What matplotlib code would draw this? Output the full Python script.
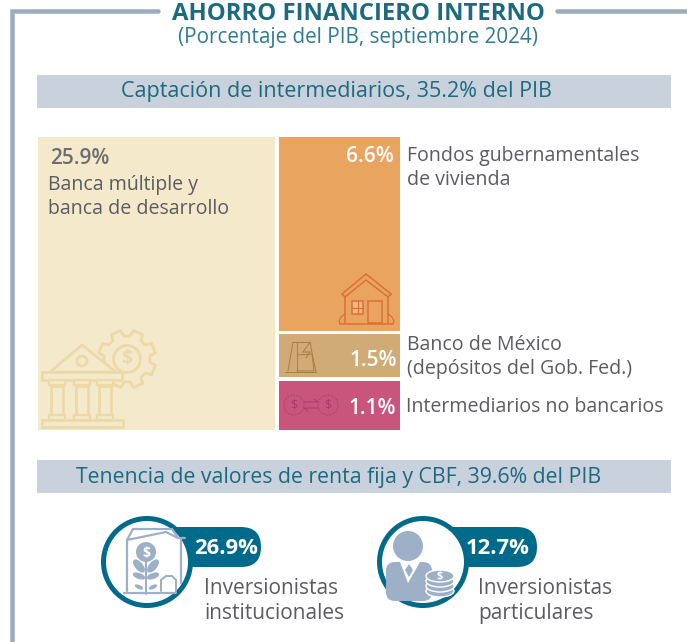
import matplotlib
matplotlib.use("Agg")
import matplotlib.pyplot as plt
from matplotlib.patches import Rectangle, Circle, Polygon, FancyBboxPatch, Ellipse
import numpy as np

plt.rcParams['font.family'] = ['Open Sans', 'DejaVu Sans']

TITLE = "AHORRO FINANCIERO INTERNO"
SUBTITLE = "(Porcentaje del PIB, septiembre 2024)"
HEAD1 = "Captación de intermediarios, 35.2% del PIB"
HEAD2 = "Tenencia de valores de renta fija y CBF, 39.6% del PIB"
blocks = ["Banca múltiple y\nbanca de desarrollo", "Fondos gubernamentales\nde vivienda",
          "Banco de México\n(depósitos del Gob. Fed.)", "Intermediarios no bancarios"]
block_vals = [25.9, 6.6, 1.5, 1.1]
holders = ["Inversionistas\ninstitucionales", "Inversionistas\nparticulares"]
holder_vals = [26.9, 12.7]

W, H = 687, 642
fig = plt.figure(figsize=(W/100, H/100), dpi=100, facecolor='white')
ax = fig.add_axes([0, 0, 1, 1])
ax.set_xlim(0, W); ax.set_ylim(H, 0); ax.axis('off')

GREY = '#9AADBC'; BAR = '#C9D1DC'; TEAL = '#1B6A80'; TEAL2 = '#2F7C90'; RING = '#006A8A'
TXT = '#5A5C5F'; ICON = '#9DB0C8'
px = 100/72
LS = 1.32

def line(xs, ys, c, lw=1.5, **k):
    ax.plot(xs, ys, color=c, lw=lw/px, solid_capstyle=k.pop('cap', 'round'), solid_joinstyle='miter', **k)

# frame
line([158, 11.5, 11.5], [11, 11, 642], GREY, 4.5)
line([557, 687], [11, 11], GREY, 4.5)

ax.text(358.5, 13.5, TITLE, ha='center', va='center', fontsize=17.2, fontweight='bold', color=TEAL)
ax.text(358, 38, SUBTITLE, ha='center', va='center', fontsize=14.9, color=TEAL2)

for y0, t, cx, fs, dy in [(75, HEAD1, 336, 15.45, 17), (460, HEAD2, 339, 15.3, 18)]:
    ax.add_patch(Rectangle((37, y0), 634, 33, fc=BAR, ec='none'))
    ax.text(cx, y0+dy, t, ha='center', va='center', fontsize=fs, color=TEAL)

# blocks
rects = [(38, 137, 237, 293, '#F5E9CB'), (279, 137, 121, 194, '#E9A55F'),
         (279, 334, 121, 43, '#D0AB76'), (279, 381, 121, 49, '#C9547C')]
for (x, y, w, h, c) in rects:
    ax.add_patch(Rectangle((x, y), w, h, fc=c, ec='none'))

VAL = dict(fontsize=15, fontweight=600, va='center')
LAB = dict(fontsize=14.05, color=TXT, va='center', ha='left', linespacing=LS)
ax.text(50, 159, f"{block_vals[0]}%", ha='left', color='#6D6E71', **VAL)
ax.text(48, 197, blocks[0], **LAB)
ax.text(394, 157, f"{block_vals[1]}%", ha='right', color='white', **VAL)
ax.text(407, 168, blocks[1], **LAB)
ax.text(397, 360, f"{block_vals[2]}%", ha='right', color='white', **VAL)
ax.text(407, 357, blocks[2], **LAB)
ax.text(396, 408, f"{block_vals[3]}%", ha='right', color='white', **VAL)
ax.text(406, 407, blocks[3], **LAB)

# bank icon
IC = '#EBDAA8'; BG = '#F5E9CB'
gear_c = (127, 359)
ang = np.linspace(0, 2*np.pi, 8, endpoint=False) + np.pi/8
pts = []
for a in ang:
    for da, r in [(-0.27, 23), (-0.17, 29), (0.17, 29), (0.27, 23)]:
        pts.append((gear_c[0]+r*np.cos(a+da), gear_c[1]+r*np.sin(a+da)))
ax.add_patch(Polygon(pts, closed=True, fc='none', ec=IC, lw=2))
ax.add_patch(Circle(gear_c, 13.5, fc='none', ec=IC, lw=2))
ax.text(gear_c[0], gear_c[1], "$", ha='center', va='center', fontsize=14, color=IC, fontweight='bold')
ax.add_patch(Polygon([(50, 372), (82, 345), (116, 372)], closed=True, fc=BG, ec=IC, lw=2))
ax.add_patch(Circle((82, 361), 5, fc='none', ec=IC, lw=2))
ax.add_patch(Rectangle((42, 372), 80, 8, fc=BG, ec=IC, lw=2))
ax.add_patch(Rectangle((42, 420), 81, 7, fc=BG, ec=IC, lw=2))
for cx in (57, 82, 105):
    ax.add_patch(Rectangle((cx-6, 386), 12, 29, fc=BG, ec=IC, lw=2))
    ax.add_patch(Rectangle((cx-8, 380), 16, 5, fc=BG, ec=IC, lw=1.7))
    ax.add_patch(Rectangle((cx-8, 415), 16, 5, fc=BG, ec=IC, lw=1.7))

# house icon
HC = '#DC6F35'
line([342, 366, 391], [294, 274, 294], HC, 1.5)
line([345, 366, 388], [297, 280, 297], HC, 1.5)
line([342, 345], [294, 297], HC, 1.5); line([391, 388], [294, 297], HC, 1.5)
line([345, 345], [297, 323], HC, 1.5); line([388, 388], [297, 323], HC, 1.5)
ax.add_patch(Rectangle((352, 301), 11, 13, fc='#F0B98A', ec=HC, lw=1.1))
line([357.5, 357.5], [301, 314], HC, 1.2); line([352, 363], [307.5, 307.5], HC, 1.2)
ax.add_patch(Rectangle((368, 301), 14, 22, fc='none', ec=HC, lw=1.1))
line([340, 393], [324, 324], HC, 1.5)
line([345, 341, 339, 340], [314, 317, 321, 324], HC, 1.2)
line([388, 392, 394, 393], [314, 317, 321, 324], HC, 1.2)

# Banxico monogram
BC = '#A97F45'
line([293, 288], [342, 371], BC, 1); line([293, 310], [342, 342], BC, 1)
line([297, 297], [342, 371], BC, 1); line([285, 316], [372, 372], BC, 1)
line([297, 312, 314, 297], [355, 354, 371, 371], BC, 1)
line([303, 310, 313, 316], [352, 342, 358, 372], BC, 1)
line([303, 310, 306], [352, 352, 358], BC, 1)

# exchange icon
EC = '#A33D65'
for cx in (294, 328):
    ax.add_patch(Circle((cx, 405), 10, fc='none', ec=EC, lw=0.7, ls=(0, (1, 1))))
    ax.text(cx, 405, "$", ha='center', va='center', fontsize=9, color=EC)
line([304, 318, 314], [402, 402, 399], EC, 0.9); line([318, 304, 308], [408, 408, 411], EC, 0.9)

# holders
def holder(cx, pill_end, val, name, valx, namex):
    ax.add_patch(FancyBboxPatch((pill_end-40, 547), 20, 0.01, boxstyle='round,pad=20,rounding_size=20',
                                fc=RING, ec='none', zorder=1))
    ax.add_patch(Rectangle((cx, 527), pill_end-cx-20, 40, fc=RING, ec='none', zorder=1))
    ax.add_patch(Circle((cx, 562), 43.5, fc='white', ec=RING, lw=3.6, zorder=2))
    ax.text(valx, 549, f"{val}%", ha='center', va='center', fontsize=15.8, fontweight='bold', color='white', zorder=5)
    ax.text(namex, 601, name, ha='left', va='center', fontsize=15, color=TXT, linespacing=1.2)

holder(147, 261, holder_vals[0], holders[0], 226, 204)
holder(423, 537, holder_vals[1], holders[1], 498, 478)

# plant icon
z = 3
line([127, 127, 166, 178], [591, 540, 532, 538], ICON, 2.2, zorder=z)
line([127, 133, 172, 178, 185], [540, 529, 529, 538, 538], ICON, 2.2, zorder=z)
line([181, 181], [538, 583], ICON, 2.2, zorder=z)
line([124, 176], [593, 593], ICON, 2.2, zorder=z)
ax.add_patch(Circle((146, 552), 10, fc=ICON, ec='none', zorder=z))
ax.text(146, 553, "$", ha='center', va='center', fontsize=10, fontweight='bold', color='white', zorder=z+1)
line([146, 146], [562, 594], ICON, 2, zorder=z)
for (x, y, a, w, h) in [(139, 566, 50, 16, 8), (153, 566, -50, 16, 8), (139, 576, 20, 13, 6),
                        (153, 576, -20, 13, 6), (139, 587, 25, 9, 4), (153, 587, -25, 9, 4)]:
    ax.add_patch(Ellipse((x, y), w, h, angle=a, fc=ICON, ec='none', zorder=z))
line([161, 161, 166, 172, 176, 176], [591, 580, 576, 576, 580, 591], ICON, 2, zorder=z)

# person icon
ax.add_patch(Circle((408, 546), 15, fc=ICON, ec='none', zorder=z))
ax.add_patch(FancyBboxPatch((386, 562), 46, 39, boxstyle='round,pad=0,rounding_size=9', fc=ICON, ec='none', zorder=z))
ax.add_patch(Polygon([(400, 562), (408, 583), (420, 562)], closed=True, fc='white', ec='none', zorder=z+1))
ax.add_patch(Polygon([(409, 564), (413, 570), (409, 577), (405, 570)], closed=True, fc=ICON, ec='none', zorder=z+2))
for y in (591, 586, 581, 576):
    ax.add_patch(Ellipse((440, y), 28, 12, fc=ICON, ec='white', lw=1, zorder=z+3))
ax.text(440, 577, "$", ha='center', va='center', fontsize=8, color='white', fontweight='bold', zorder=z+4)

fig.savefig('out.png', dpi=100, facecolor='white')
